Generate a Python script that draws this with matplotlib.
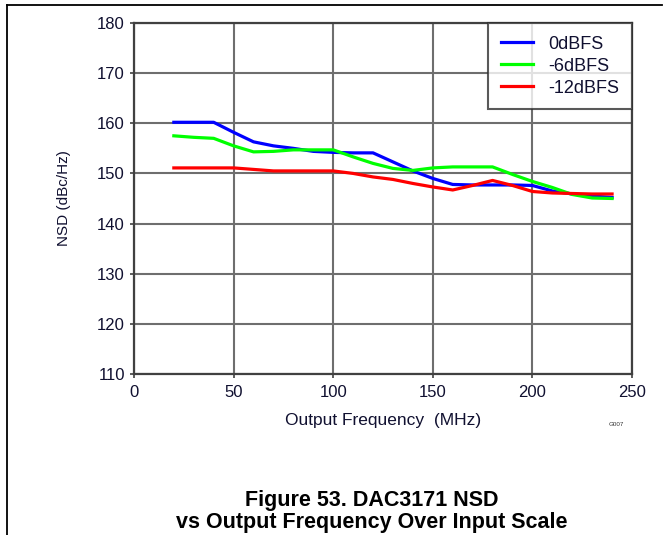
import matplotlib
matplotlib.use('Agg')
import matplotlib.pyplot as plt
from matplotlib.lines import Line2D

plt.rcParams['font.family'] = ['Liberation Sans', 'DejaVu Sans']

# output frequency (MHz)
freq = [20, 30, 40, 50, 60, 70, 80, 90, 100, 110, 120, 130, 140, 150,
        160, 170, 180, 190, 200, 210, 220, 230, 240]

# NSD (dBc/Hz) per input scale
nsd_0db = [160.2, 160.2, 160.2, 158.2, 156.3, 155.5, 155.0, 154.4, 154.2, 154.1,
           154.1, 152.3, 150.5, 149.0, 147.8, 147.7, 147.7, 147.7, 147.6, 146.5,
           145.9, 145.5, 145.2]
nsd_6db = [157.5, 157.2, 157.0, 155.5, 154.3, 154.4, 154.7, 154.7, 154.7, 153.3,
           152.0, 151.0, 150.6, 151.1, 151.3, 151.3, 151.3, 149.8, 148.4, 147.2,
           145.8, 145.1, 145.0]
nsd_12db = [151.1, 151.1, 151.1, 151.1, 150.8, 150.5, 150.5, 150.5, 150.5, 150.0,
            149.3, 148.8, 148.0, 147.3, 146.7, 147.6, 148.6, 147.6, 146.4, 146.1,
            146.0, 145.9, 145.9]

series = [('0dBFS', nsd_0db, '#0000ff'),
          ('-6dBFS', nsd_6db, '#00ff00'),
          ('-12dBFS', nsd_12db, '#ff0000')]

xticks = [0, 50, 100, 150, 200, 250]
yticks = [110, 120, 130, 140, 150, 160, 170, 180]

txt = '#101030'

fig = plt.figure(figsize=(6.71, 5.35), dpi=100)
ax = fig.add_axes([134 / 671, 1 - 374 / 535, 498 / 671, 351 / 535])

for name, vals, col in series:
    ax.plot(freq, vals, color=col, lw=2.3, label=name)

ax.set_xlim(0, 250)
ax.set_ylim(110, 180)
ax.set_xticks(xticks)
ax.set_yticks(yticks)
ax.grid(True, color='#6e6e6e', lw=1.5)
ax.set_axisbelow(True)
for s in ax.spines.values():
    s.set_color('#404040')
    s.set_linewidth(1.6)
ax.tick_params(length=3, width=1.2, color='#404040', labelsize=12,
               labelcolor=txt)
ax.tick_params(axis='x', pad=5)
ax.tick_params(axis='y', pad=3.5)
ax.set_xlabel('Output Frequency  (MHz)', fontsize=12.5, labelpad=9, color=txt)
ax.set_ylabel('NSD (dBc/Hz)', fontsize=11, labelpad=19, color=txt)

leg = ax.legend(loc='upper right', bbox_to_anchor=(1.0, 1.0), frameon=True,
                fancybox=False, fontsize=13, handlelength=1.8, handletextpad=0.85,
                borderpad=0.7, labelspacing=0.28, borderaxespad=0.0)
leg.get_frame().set_edgecolor('#303030')
leg.get_frame().set_linewidth(1.5)
for t in leg.get_texts():
    t.set_color(txt)

fig.text(609 / 671, 1 - 424 / 535, 'G007', fontsize=4.5, color='#333333',
         ha='left', va='center')

# outer page frame (top and left edges)
fig.add_artist(Line2D([7 / 671, 662 / 671], [1 - 5 / 535, 1 - 5 / 535],
                      color='black', lw=1.3, transform=fig.transFigure))
fig.add_artist(Line2D([7 / 671, 7 / 671], [1 - 5 / 535, 0],
                      color='black', lw=1.3, transform=fig.transFigure))

fig.text(372 / 671, 1 - 506 / 535, 'Figure 53. DAC3171 NSD', fontsize=15.5,
         fontweight='bold', ha='center', va='baseline')
fig.text(372 / 671, 1 - 528 / 535, 'vs Output Frequency Over Input Scale',
         fontsize=15.5, fontweight='bold', ha='center', va='baseline')

fig.savefig('out.png', dpi=100)
